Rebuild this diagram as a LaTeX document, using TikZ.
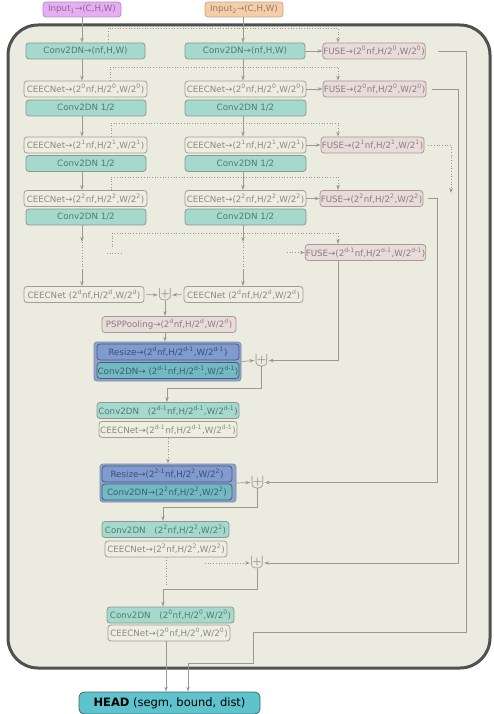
\documentclass[tikz,border=0pt]{standalone}
\usepackage{fontspec}
\setmainfont{DejaVu Sans}
\usetikzlibrary{arrows.meta}
\definecolor{bgc}{HTML}{EBEBDF}
\definecolor{framec}{HTML}{505050}
\definecolor{linec}{HTML}{9A9A8E}
\definecolor{convfill}{HTML}{A6D9CE}
\definecolor{convdraw}{HTML}{8A9A90}
\definecolor{convtext}{HTML}{4F7A72}
\definecolor{ceecfill}{HTML}{EDEDE2}
\definecolor{ceecdraw}{HTML}{A0A090}
\definecolor{ceectext}{HTML}{8A8A80}
\definecolor{fusefill}{HTML}{E9DBD9}
\definecolor{fusedraw}{HTML}{A89898}
\definecolor{fusetext}{HTML}{8A7E7E}
\definecolor{inafill}{HTML}{E6AEF2}
\definecolor{inadraw}{HTML}{B98AC8}
\definecolor{inatext}{HTML}{8A6A96}
\definecolor{inbfill}{HTML}{F5CDA8}
\definecolor{inbdraw}{HTML}{C8A888}
\definecolor{inbtext}{HTML}{9A7A66}
\definecolor{grpfill}{HTML}{8FA3CA}
\definecolor{grpdraw}{HTML}{7A8AB0}
\definecolor{rsfill}{HTML}{7F9BCF}
\definecolor{rsdraw}{HTML}{4A5A7A}
\definecolor{rstext}{HTML}{3E4E70}
\definecolor{cvfill}{HTML}{72B9C3}
\definecolor{cvtext}{HTML}{3A6070}
\definecolor{headfill}{HTML}{5EC3CD}
\definecolor{headdraw}{HTML}{4A6468}
\newcommand{\po}[1]{2\textsuperscript{#1}}
\begin{document}
\begin{tikzpicture}[x=1pt, y=-1pt,
    box/.style={draw, rectangle, rounded corners=3pt, minimum height=16pt, inner sep=0.5pt, line width=0.8pt, font=\fontsize{8.7}{10}\selectfont},
    conv/.style={box, fill=convfill, draw=convdraw, text=convtext},
    ceec/.style={box, fill=ceecfill, draw=ceecdraw, text=ceectext},
    fuse/.style={box, fill=fusefill, draw=fusedraw, text=fusetext},
    grp/.style={rectangle, rounded corners=3pt, fill=grpfill, draw=grpdraw, line width=0.8pt},
    rsz/.style={box, fill=rsfill, draw=rsdraw, text=rstext},
    cvb/.style={box, fill=cvfill, draw=rsdraw, text=cvtext},
    plus/.style={inner sep=0pt, text=linec, font=\fontsize{20}{20}\selectfont},
    arr/.style={draw=linec, line width=0.7pt, -{Stealth[length=5pt,width=3.5pt]}},
    dots/.style={draw=linec, line width=0.7pt, dotted},
    dotarr/.style={dots, -{Stealth[length=5pt,width=3.5pt]}}]
\useasboundingbox (0,0) rectangle (494,714);
\draw[line width=3pt, draw=framec, fill=bgc, rounded corners=30pt] (8,25) rectangle (490,668);
\coordinate (colL) at (82,0); \coordinate (colR) at (243,0); \coordinate (fx) at (338,0);
\node[box, fill=inafill, draw=inadraw, text=inatext, minimum width=78pt, minimum height=15pt] (in1) at (82,9.5) {Input\textsubscript{1}→(C,H,W)};
\node[box, fill=inbfill, draw=inbdraw, text=inbtext, minimum width=78pt, minimum height=15pt] (in2) at (244,9.5) {Input\textsubscript{2}→(C,H,W)};
\node[conv, minimum width=119pt] (c0L) at (85.5,51) {Conv2DN→(nf,H,W)};
\node[conv, minimum width=120pt] (c0R) at (245,51) {Conv2DN→(nf,H,W)};
\node[fuse, minimum width=102pt] (f0) at (374,51) {FUSE→(\po{0}nf,H/\po{0},W/\po{0})};
\node[ceec, minimum width=123pt] (e0L) at (85.5,89) {CEECNet→(\po{0}nf,H/\po{0},W/\po{0})};
\node[ceec, minimum width=121pt] (e0R) at (245.5,89) {CEECNet→(\po{0}nf,H/\po{0},W/\po{0})};
\node[fuse, minimum width=103pt] (f1) at (374.5,89) {FUSE→(\po{0}nf,H/\po{0},W/\po{0})};
\node[conv, minimum width=120pt] (d0L) at (86,108) {Conv2DN 1/2};
\node[conv, minimum width=121pt] (d0R) at (245.5,108) {Conv2DN 1/2};
\node[ceec, minimum width=123pt] (e1L) at (85.5,145) {CEECNet→(\po{1}nf,H/\po{1},W/\po{1})};
\node[ceec, minimum width=121pt] (e1R) at (245.5,145) {CEECNet→(\po{1}nf,H/\po{1},W/\po{1})};
\node[fuse, minimum width=103pt] (f2) at (372.5,145) {FUSE→(\po{1}nf,H/\po{1},W/\po{1})};
\node[conv, minimum width=120pt] (d1L) at (86,163.5) {Conv2DN 1/2};
\node[conv, minimum width=121pt] (d1R) at (245.5,163.5) {Conv2DN 1/2};
\node[ceec, minimum width=123pt] (e2L) at (85.5,198.5) {CEECNet→(\po{2}nf,H/\po{2},W/\po{2})};
\node[ceec, minimum width=121pt] (e2R) at (245.5,198.5) {CEECNet→(\po{2}nf,H/\po{2},W/\po{2})};
\node[fuse, minimum width=103pt] (f3) at (371.5,198.5) {FUSE→(\po{2}nf,H/\po{2},W/\po{2})};
\node[conv, minimum width=120pt] (d2L) at (86,217) {Conv2DN 1/2};
\node[conv, minimum width=121pt] (d2R) at (245.5,217) {Conv2DN 1/2};
\node[fuse, minimum width=119pt] (fd) at (365.5,252.5) {FUSE→(\po{d-1}nf,H/\po{d-1},W/\po{d-1})};
\node[ceec, minimum width=120pt] (edL) at (84,294.5) {CEECNet (\po{d}nf,H/\po{d},W/\po{d})};
\node[ceec, minimum width=119pt] (edR) at (243.5,294.5) {CEECNet (\po{d}nf,H/\po{d},W/\po{d})};
\node[plus] (p0) at (165,295) {$\uplus$};
\node[fuse, minimum width=134pt] (psp) at (169,324.5) {PSPPooling→(\po{d}nf,H/\po{d},W/\po{d})};
\node[grp, minimum width=147pt, minimum height=39pt] (grp1) at (167.5,361.5) {};
\node[rsz, minimum width=142pt] (rs1) at (168,352) {Resize→(\po{d}nf,H/\po{d-1},W/\po{d-1})};
\node[cvb, minimum width=142pt] (cv1) at (168,370.5) {Conv2DN→ (\po{d-1}nf,H/\po{d-1},W/\po{d-1})};
\node[plus] (p1) at (261.5,360.5) {$\uplus$};
\node[conv, minimum width=142pt] (u1) at (168,410.5) {Conv2DN\quad(\po{d-1}nf,H/\po{d-1},W/\po{d-1})};
\node[ceec, minimum width=138pt] (ce1) at (168,429.5) {CEECNet→(\po{d-1}nf,H/\po{d-1},W/\po{d-1})};
\node[grp, minimum width=136pt, minimum height=38pt] (grp2) at (168,483) {};
\node[rsz, minimum width=130pt] (rs2) at (167,474) {Resize→(\po{2-1}nf,H/\po{2},W/\po{2})};
\node[cvb, minimum width=130pt] (cv2) at (167,492) {Conv2DN→(\po{2}nf,H/\po{2},W/\po{2})};
\node[plus] (p2) at (257.5,482.5) {$\uplus$};
\node[conv, minimum width=127pt] (u2) at (165.5,529.5) {Conv2DN\quad(\po{2}nf,H/\po{2},W/\po{2})};
\node[ceec, minimum width=122pt] (ce2) at (166,549) {CEECNet→(\po{2}nf,H/\po{2},W/\po{2})};
\node[plus] (p3) at (257,563) {$\uplus$};
\node[conv, minimum width=127pt] (u3) at (170.5,615) {Conv2DN\quad(\po{0}nf,H/\po{0},W/\po{0})};
\node[ceec, minimum width=122pt] (ce3) at (169,633) {CEECNet→(\po{0}nf,H/\po{0},W/\po{0})};
\node[box, fill=headfill, draw=headdraw, text=black, rounded corners=5pt, minimum width=181pt, minimum height=22pt, font=\fontsize{11.5}{13}\selectfont] (head) at (169.5,703) {\textbf{HEAD} (segm, bound, dist)};
\draw[arr] (in1.south) -- (colL |- c0L.north);
\draw[arr] (in2.south -| colR) -- (colR |- c0R.north);
\draw[arr] (colL |- c0L.south) -- (colL |- e0L.north);
\draw[arr] (colR |- c0R.south) -- (colR |- e0R.north);
\draw[arr] (colL |- d0L.south) -- (colL |- e1L.north);
\draw[arr] (colR |- d0R.south) -- (colR |- e1R.north);
\draw[arr] (colL |- d1L.south) -- (colL |- e2L.north);
\draw[arr] (colR |- d1R.south) -- (colR |- e2R.north);
\coordinate (gL1) at (82,242); \coordinate (gL2) at (82,270);
\coordinate (gR1) at (243,242); \coordinate (gR2) at (243,270);
\draw[arr] (colL |- d2L.south) -- (gL1); \draw[dots] (gL1) -- (gL2); \draw[arr] (gL2) -- (colL |- edL.north);
\draw[arr] (colR |- d2R.south) -- (gR1); \draw[dots] (gR1) -- (gR2); \draw[arr] (gR2) -- (colR |- edR.north);
\coordinate (t0) at (108,28); \coordinate (t1) at (110,67); \coordinate (t2) at (111,123); \coordinate (t3) at (111,177);
\draw[dotarr] (t0 |- c0L.north) -- (t0) -| (fx |- f0.north);
\draw[dotarr] (t1 |- e0L.north) -- (t1) -| (fx |- f1.north);
\draw[dotarr] (t2 |- e1L.north) -- (t2) -| (fx |- f2.north);
\draw[dotarr] (t3 |- e2L.north) -- (t3) -| (fx |- f3.north);
\coordinate (t4) at (112,233); \coordinate (t4b) at (112,247);
\draw[dotarr] (t4b) -- (t4) -| (fx |- fd.north);
\coordinate (s1) at (107,253); \coordinate (s2) at (121,253); \coordinate (s3) at (287,252.5);
\draw[dots] (s1) -- (s2);
\draw[dotarr] (s3) -- (fd.west);
\draw[arr] (c0R.east) -- (f0.west);
\draw[arr] (e0R.east) -- (f1.west);
\draw[arr] (e1R.east) -- (f2.west);
\draw[arr] (e2R.east) -- (f3.west);
\draw[arr, shorten <=2pt] (edL.east) -- (p0.west);
\draw[arr, shorten <=2pt] (edR.west) -- (p0.east);
\draw[arr] (p0.south) -- (p0.south |- psp.north);
\draw[arr] (p0.south |- psp.south) -- (p0.south |- grp1.north);
\draw[arr] (grp1.east) -- (p1.west);
\draw[arr] (fx |- fd.south) |- (p1.east);
\coordinate (k1) at (167,388); \coordinate (k2) at (163,507); \coordinate (k3) at (167,586); \coordinate (k4) at (163,589);
\draw[arr] (p1.south) |- (k1) -- (k1 |- u1.north);
\draw[dotarr, line width=1pt] (ce1.south) -- (grp2.north);
\draw[arr] (grp2.east) -- (p2.west);
\coordinate (r3) at (437,0); \coordinate (r1) at (458,0); \coordinate (r2) at (451,193);
\draw[arr, shorten <=5pt] (f3.east) -| (r3 |- p2.east) -- (p2.east);
\draw[arr] (p2.south) |- (k2) -- (k2 |- u2.north);
\draw[dots, line width=1pt] (ce2.south) -- (ce2.south |- k3);
\coordinate (s4) at (205,563);
\draw[dotarr, line width=1pt] (s4) -- (p3.west);
\draw[arr, shorten <=6pt] (f1.east) -| (r1 |- p3.east) -- (p3.east);
\draw[arr] (p3.south) |- (k4) -- (k4 |- u3.north);
\draw[arr] (ce3.south -| 166,0) -- (head.north -| 166,0);
\draw[dotarr, shorten <=4pt] (f2.east) -| (r2);
\coordinate (h1) at (466,632); \coordinate (h2) at (253,663); \coordinate (h3) at (188,663);
\draw[arr, shorten <=12pt] (f0.east) -| (h1) -| (h2) -- (h3) -- (h3 |- head.north);
\end{tikzpicture}
\end{document}
